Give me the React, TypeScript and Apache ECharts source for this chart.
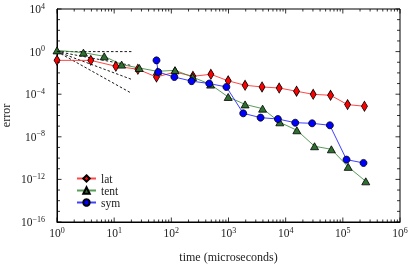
import React, { useEffect, useRef } from 'react';
import * as echarts from 'echarts';

// lat (red diamonds)
const latX = [1, 3.9, 10.7, 26, 55, 116, 239, 492, 988, 1950, 3860, 7700, 15500, 30300, 61000, 121000, 239000];
const latY = [0.15, 0.15, 0.042, 0.022, 0.0041, 0.012, 0.0048, 0.0074, 0.0018, 6.9e-4, 4.8e-4, 3.8e-4, 1.9e-4, 9.7e-5, 7.9e-5, 1.05e-5, 7.4e-6];
// tent (green triangles)
const tentX = [1, 2.9, 6.7, 13.5, 27.5, 57, 116, 236, 487, 988, 1950, 3950, 7900, 15700, 32000, 63000, 124000, 252000];
const tentY = [1.3, 0.8, 0.36, 0.06, 0.029, 0.014, 0.0175, 0.0041, 8e-4, 5.5e-5, 1.1e-5, 4.4e-6, 2.3e-7, 4.1e-8, 1.3e-9, 6.7e-10, 1.5e-11, 6.6e-13];
// sym (blue circles)
const symX = [55, 59, 113, 226, 460, 919, 1810, 3640, 7310, 14700, 29000, 59300, 116000, 230000];
const symY = [0.15, 0.012, 0.0041, 0.0017, 1e-3, 4.8e-4, 1.6e-6, 6.3e-7, 4.7e-7, 2.1e-7, 1.85e-7, 1.2e-7, 7.2e-11, 3.5e-11];
// reference slope lines (dashed), from (1, 1) to (20, y)
const slopeStart = [1, 1];
const slopeEndX = 20;
const slopeEndY = [1, 0.05, 0.0025, 1.25e-4];

const seriesNames = ['lat', 'tent', 'sym'];
const xAxisName = 'time (microseconds)';
const yAxisName = 'error';
const xExps = [0, 1, 2, 3, 4, 5, 6];
const yExps = [-16, -15, -14, -13, -12, -11, -10, -9, -8, -7, -6, -5, -4, -3, -2, -1, 0, 1, 2, 3, 4];
const yLabelExps = [-16, -12, -8, -4, 0, 4];
const xMinorMult = [2, 3, 4, 5, 6, 7, 8, 9];

const FONT = '"Liberation Serif", "DejaVu Serif", serif';
const X_MIN = 1, X_MAX = 1e6, Y_MIN = 1e-16, Y_MAX = 1e4;

export default function App() {
  const ref = useRef<HTMLDivElement>(null);
  useEffect(() => {
    const chart = echarts.init(ref.current!, null, { renderer: 'svg' });
    const zip = (xs: number[], ys: number[]) => xs.map((x, i) => [x, ys[i]]);
    const expLabel = (e: number) => `{b|10}{s|${e < 0 ? '\u2212' : ''}${Math.abs(e)}}`;

    const xTicks: number[][] = [];
    xExps.forEach((k) => {
      xTicks.push([parseFloat(`1e${k}`), Y_MIN, 4.5]);
      if (k < 6) xMinorMult.forEach((m) => xTicks.push([m * parseFloat(`1e${k}`), Y_MIN, 2.5]));
    });
    const yTicks: number[][] = yExps.map((e) => [X_MIN, parseFloat(`1e${e}`), yLabelExps.includes(e) ? 4.5 : 3]);
    const yLabels: number[][] = yLabelExps.map((e) => [X_MIN, parseFloat(`1e${e}`), e]);

    const tickStyle = { stroke: '#000', lineWidth: 0.8 };
    const rich = {
      b: { fontFamily: FONT, fontSize: 11.5, lineHeight: 14, color: '#222' },
      s: { fontFamily: FONT, fontSize: 8, lineHeight: 8, verticalAlign: 'top', color: '#222' },
    };

    const dashed = slopeEndY.map((y, i) => ({
      name: 'slope' + i,
      type: 'line',
      data: [slopeStart, [slopeEndX, y]],
      showSymbol: false,
      symbol: 'none',
      silent: true,
      z: 1,
      lineStyle: { color: '#000', width: 0.9, type: [2.5, 2] },
    }));

    const mk = (name: string, xs: number[], ys: number[], color: string, lineColor: string, symbol: string, size: any) => ({
      name,
      type: 'line',
      data: zip(xs, ys),
      symbol,
      symbolSize: size,
      z: 3,
      itemStyle: { color, borderColor: '#000', borderWidth: 0.8 },
      lineStyle: { color: lineColor, width: 1 },
    });

    chart.setOption({
      animation: false,
      grid: {
        left: 57, top: 9, right: 9, bottom: 44,
        outerBoundsMode: 'none',
        containLabel: false,
        show: true, borderColor: '#000', borderWidth: 1, backgroundColor: 'transparent',
      },
      legend: {
        data: seriesNames,
        orient: 'vertical',
        left: 76,
        top: 172.5,
        padding: 0,
        itemWidth: 19,
        itemHeight: 8,
        itemGap: 0,
        textStyle: { fontFamily: FONT, fontSize: 11.5, color: '#222', lineHeight: 11.7 },
      },
      xAxis: {
        type: 'log',
        logBase: 10,
        min: X_MIN,
        max: X_MAX,
        name: xAxisName,
        nameLocation: 'middle',
        nameGap: 29,
        nameTextStyle: { fontFamily: FONT, fontSize: 12, color: '#222' },
        axisLine: { show: true, lineStyle: { color: '#000', width: 1 } },
        axisTick: { show: false },
        minorTick: { show: false },
        splitLine: { show: false },
        axisLabel: {
          margin: 4,
          interval: 0,
          showMinLabel: true,
          showMaxLabel: true,
          formatter: (v: number) => expLabel(Math.round(Math.log10(v))),
          rich,
        },
      },
      yAxis: {
        type: 'log',
        logBase: 10,
        min: Y_MIN,
        max: Y_MAX,
        name: yAxisName,
        nameLocation: 'middle',
        nameGap: 45,
        nameTextStyle: { fontFamily: FONT, fontSize: 12, color: '#222' },
        axisLine: { show: true, lineStyle: { color: '#000', width: 1 } },
        axisTick: { show: false },
        minorTick: { show: false },
        splitLine: { show: false },
        axisLabel: { show: false },
      },
      series: [
        ...dashed,
        mk('lat', latX, latY, '#ff0000', 'rgba(255,40,40,0.85)', 'diamond', [6, 10]),
        mk('tent', tentX, tentY, '#2f7030', 'rgba(60,140,60,0.85)', 'triangle', [8, 7]),
        mk('sym', symX, symY, '#0000ff', 'rgba(30,30,255,0.85)', 'circle', 7),
        {
          name: 'xticks',
          type: 'custom',
          data: xTicks,
          silent: true,
          clip: false,
          z: 5,
          renderItem: (_p: any, api: any) => {
            const v = api.value(0);
            const len = api.value(2);
            const b = api.coord([v, Y_MIN]);
            const t = api.coord([v, Y_MAX]);
            return {
              type: 'group',
              children: [
                { type: 'line', shape: { x1: b[0], y1: b[1], x2: b[0], y2: b[1] - len }, style: tickStyle },
                { type: 'line', shape: { x1: t[0], y1: t[1], x2: t[0], y2: t[1] + len }, style: tickStyle },
              ],
            };
          },
        },
        {
          name: 'yticks',
          type: 'custom',
          data: yTicks,
          silent: true,
          clip: false,
          z: 5,
          renderItem: (_p: any, api: any) => {
            const v = api.value(1);
            const len = api.value(2);
            const l = api.coord([X_MIN, v]);
            const r = api.coord([X_MAX, v]);
            return {
              type: 'group',
              children: [
                { type: 'line', shape: { x1: l[0], y1: l[1], x2: l[0] + len, y2: l[1] }, style: tickStyle },
                { type: 'line', shape: { x1: r[0], y1: r[1], x2: r[0] - len, y2: r[1] }, style: tickStyle },
              ],
            };
          },
        },
        {
          name: 'ylabels',
          type: 'custom',
          data: yLabels,
          silent: true,
          clip: false,
          z: 5,
          renderItem: (_p: any, api: any) => {
            const v = api.value(1);
            const e = api.value(2);
            const p = api.coord([X_MIN, v]);
            return {
              type: 'text',
              x: p[0] - 12,
              y: p[1],
              style: {
                text: expLabel(e),
                align: 'right',
                verticalAlign: 'middle',
                rich,
                fill: '#222',
              },
            };
          },
        },
      ],
    });
    return () => chart.dispose();
  }, []);
  return <div ref={ref} style={{ position: 'fixed', left: 0, top: 0, width: 409, height: 266 }} />;
}
